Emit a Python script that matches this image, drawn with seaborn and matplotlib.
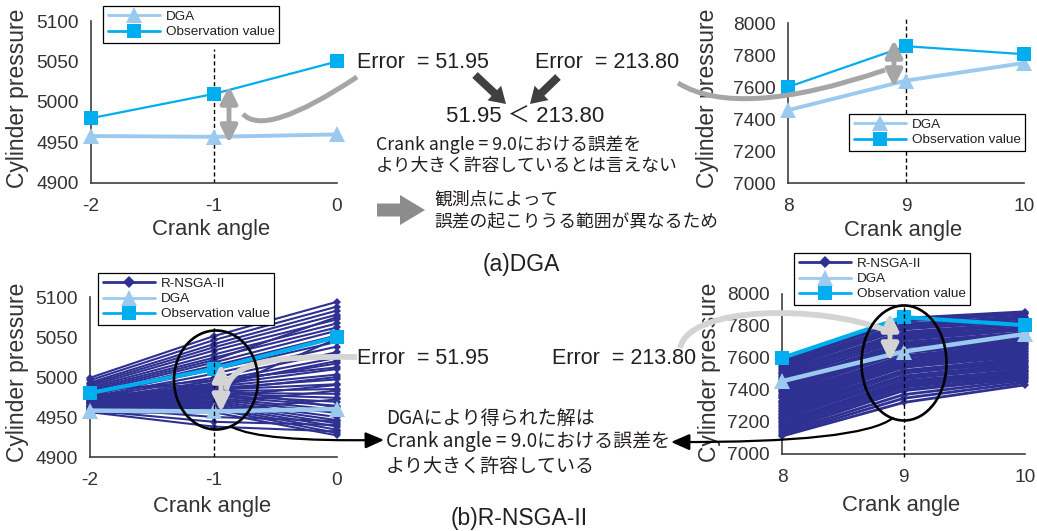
import matplotlib
matplotlib.use("Agg")
import numpy as np
import pandas as pd
import matplotlib.pyplot as plt
import seaborn as sns
from matplotlib.lines import Line2D
from matplotlib.patches import Ellipse, FancyArrow, FancyArrowPatch, PathPatch
from matplotlib.path import Path

sns.set_style("white")
plt.rcParams["font.family"] = ["Liberation Sans", "Noto Sans CJK JP"]
plt.rcParams["axes.unicode_minus"] = False

NAVY = "#2E3192"
DGA_C = "#9CC9EE"
OBS_C = "#00AEEF"
AX_C = "#404040"
TXT_C = "#231F20"
JP = ["Noto Sans CJK JP", "DejaVu Sans"]

# ---- data -------------------------------------------------------------
angles_a = [-2, -1, 0]
angles_b = [8, 9, 10]

dga_a = [4958, 4957, 4960]
obs_a = [4980, 5010, 5050]
dga_b = [7455, 7640, 7750]
obs_b = [7600, 7855, 7805]

# R-NSGA-II solutions, pressure at each crank angle
nsga_a_m2 = [4999, 4996, 4993, 4991, 4989, 4987, 4985, 4983, 4981, 4979, 4977, 4975, 4974, 4972, 4971,
             4970, 4969, 4968, 4967, 4966, 4965, 4964, 4963, 4962, 4961, 4960, 4960, 4959, 4958, 4957,
             4957, 4956, 4955, 4962, 4958, 4956, 4985, 4978, 4973, 4968, 4976, 4970, 4964, 4982]
nsga_a_m1 = [5051, 5046, 5041, 5037, 5033, 5028, 5024, 5021, 5018, 5014, 5009, 5004, 4999, 4995, 4992,
             4990, 4988, 4986, 4984, 4982, 4980, 4979, 4977, 4976, 4974, 4972, 4970, 4968, 4966, 4964,
             4962, 4960, 4956, 4950, 4944, 4938, 4990, 4983, 4986, 4975, 4981, 4967, 4958, 4996]
nsga_a_0 = [5094, 5088, 5083, 5078, 5072, 5067, 5062, 5075, 5058, 5052, 5044, 5038, 5031, 5024, 5017,
            5010, 5003, 4997, 4991, 4985, 4979, 4974, 4969, 4964, 4959, 4955, 4950, 4946, 4942, 4938,
            4934, 4930, 4927, 4945, 4940, 4932, 5020, 5000, 4962, 4990, 5048, 4983, 4972, 5012]

nsga_b_8 = [7588, 7576, 7570, 7561, 7549, 7545, 7532, 7528, 7515, 7507, 7501, 7488, 7482, 7470, 7463,
            7450, 7447, 7433, 7428, 7415, 7409, 7396, 7391, 7380, 7368, 7364, 7350, 7347, 7333, 7326,
            7318, 7305, 7299, 7287, 7281, 7268, 7262, 7251, 7245, 7232, 7224, 7219, 7205, 7198, 7190,
            7176, 7169, 7155, 7146, 7133, 7121, 7112]
nsga_b_9 = [7848, 7830, 7839, 7812, 7804, 7796, 7781, 7790, 7762, 7751, 7757, 7733, 7741, 7714, 7722,
            7698, 7690, 7682, 7669, 7673, 7652, 7645, 7631, 7637, 7614, 7603, 7609, 7588, 7579, 7571,
            7560, 7553, 7541, 7547, 7522, 7516, 7505, 7511, 7487, 7478, 7470, 7482, 7455, 7446, 7439,
            7426, 7418, 7402, 7396, 7371, 7348, 7322]
nsga_b_10 = [7889, 7872, 7880, 7858, 7846, 7851, 7832, 7826, 7818, 7806, 7811, 7792, 7785, 7776, 7781,
             7759, 7752, 7744, 7731, 7738, 7719, 7711, 7704, 7695, 7688, 7672, 7680, 7661, 7654, 7642,
             7636, 7624, 7617, 7609, 7598, 7590, 7583, 7572, 7565, 7551, 7546, 7538, 7526, 7519, 7511,
             7502, 7494, 7481, 7473, 7462, 7447, 7432]

yticks_a = [4900, 4950, 5000, 5050, 5100]
yticks_b = [7000, 7200, 7400, 7600, 7800, 8000]


def long_frame(angles, cols):
    rows = []
    for sol, vals in enumerate(zip(*cols)):
        for a, v in zip(angles, vals):
            rows.append({"sol": sol, "angle": a, "pressure": v})
    return pd.DataFrame(rows)


df_nsga_a = long_frame(angles_a, [nsga_a_m2, nsga_a_m1, nsga_a_0])
df_nsga_b = long_frame(angles_b, [nsga_b_8, nsga_b_9, nsga_b_10])

# ---- figure -----------------------------------------------------------
W, H = 1037, 531
fig = plt.figure(figsize=(W / 100, H / 100), dpi=100)
fig.patch.set_facecolor("white")


def px_axes(x0, x1, ytop, ybot):
    return fig.add_axes([x0 / W, 1 - ybot / H, (x1 - x0) / W, (ybot - ytop) / H])


def style(ax, xticks, yticks, ylab_x, ylab_y, xlab_x, xlab_y):
    ax.set_xlim(xticks[0], xticks[-1])
    ax.set_ylim(yticks[0], yticks[-1])
    ax.set_xticks(xticks)
    ax.set_yticks(yticks)
    ax.set_facecolor("none")
    for s in ["top", "right"]:
        ax.spines[s].set_visible(False)
    for s in ["left", "bottom"]:
        ax.spines[s].set_color(AX_C)
        ax.spines[s].set_linewidth(1.2)
    ax.tick_params(direction="in", length=5, width=1.2, color=AX_C,
                   labelsize=13.8, labelcolor="#333333")
    ax.tick_params(axis="x", pad=11)
    ax.tick_params(axis="y", pad=9)
    ax.set_xlabel("Crank angle", fontsize=15.8, color="#333333")
    ax.set_ylabel("Cylinder pressure", fontsize=16.5, color="#333333")
    ax.xaxis.label.set_va("center")
    ax.yaxis.label.set_va("center")
    ax.xaxis.set_label_coords(xlab_x, xlab_y)
    ax.yaxis.set_label_coords(ylab_x, ylab_y)


def draw_ref(ax, angles, dga, obs, dga_lw, obs_lw):
    sns.lineplot(x=angles, y=dga, ax=ax, color=DGA_C, lw=dga_lw, marker="^",
                 markersize=11, markeredgewidth=0, errorbar=None, clip_on=False, zorder=4)
    sns.lineplot(x=angles, y=obs, ax=ax, color=OBS_C, lw=obs_lw, marker="s",
                 markersize=10.5, markeredgewidth=0, errorbar=None, clip_on=False, zorder=5)


def draw_nsga(ax, df, lw):
    sns.lineplot(data=df, x="angle", y="pressure", units="sol", estimator=None, ax=ax,
                 color=NAVY, lw=lw, marker="D", markersize=3.8, markeredgewidth=0,
                 legend=False, clip_on=False, zorder=3)


def add_legend(ax, with_nsga, x, y):
    handles, labels = [], []
    if with_nsga:
        handles.append(Line2D([], [], color=NAVY, lw=2, marker="D", ms=6, mew=0))
        labels.append("R-NSGA-II")
    handles.append(Line2D([], [], color=DGA_C, lw=2, marker="^", ms=11, mew=0))
    labels.append("DGA")
    handles.append(Line2D([], [], color=OBS_C, lw=2, marker="s", ms=9.5, mew=0))
    labels.append("Observation value")
    leg = ax.legend(handles, labels, loc="upper left", bbox_to_anchor=(x / W, 1 - y / H),
                    bbox_transform=fig.transFigure, frameon=True, fancybox=False,
                    edgecolor="black", framealpha=1, fontsize=9.7, handlelength=3.9,
                    handletextpad=0.4, labelspacing=0.2, borderpad=0.35, borderaxespad=0)
    leg.get_frame().set_linewidth(0.9)
    for t in leg.get_texts():
        t.set_color(TXT_C)
    leg.set_zorder(10)


# (a) DGA, crank angle -2..0
ax1 = px_axes(91, 337, 21, 183)
draw_ref(ax1, angles_a, dga_a, obs_a, 2.8, 1.6)
ax1.axvline(-1, ymin=0, ymax=0.83, color="black", lw=1, ls=(0, (3, 2)), zorder=2)
style(ax1, angles_a, yticks_a, -0.3, 0.52, 0.49, -0.29)
add_legend(ax1, False, 103, 6)

# (a) DGA, crank angle 8..10
ax2 = px_axes(788, 1024, 23, 183)
draw_ref(ax2, angles_b, dga_b, obs_b, 2.8, 1.6)
ax2.axvline(9, ymin=0, ymax=1.04, color="black", lw=1, ls=(0, (3, 2)), zorder=2, clip_on=False)
style(ax2, angles_b, yticks_b, -0.339, 0.53, 0.487, -0.294)
add_legend(ax2, False, 849, 114)

# (b) R-NSGA-II, crank angle -2..0
ax3 = px_axes(90, 337, 297, 457)
draw_nsga(ax3, df_nsga_a, 1.5)
draw_ref(ax3, angles_a, dga_a, obs_a, 3.2, 3.0)
ax3.axvline(-1, ymin=0, ymax=0.81, color="black", lw=1, ls=(0, (3, 2)), zorder=6)
style(ax3, angles_a, yticks_a, -0.295, 0.53, 0.494, -0.31)
add_legend(ax3, True, 98, 273)

# (b) R-NSGA-II, crank angle 8..10
ax4 = px_axes(782, 1025, 294, 454)
draw_nsga(ax4, df_nsga_b, 2.0)
draw_ref(ax4, angles_b, dga_b, obs_b, 3.2, 3.0)
ax4.axvline(9, ymin=-0.02, ymax=0.93, color="black", lw=1, ls=(0, (3, 2)), zorder=6, clip_on=False)
style(ax4, angles_b, yticks_b, -0.3, 0.51, 0.49, -0.32)
add_legend(ax4, True, 794, 253)

# ---- annotation layer in pixel coordinates -----------------------------
ov = fig.add_axes([0, 0, 1, 1], zorder=20)
ov.set_xlim(0, W)
ov.set_ylim(H, 0)
ov.axis("off")
ov.patch.set_alpha(0)


def curve(pts, color, lw):
    codes = [Path.MOVETO] + ([Path.CURVE3] * 2 if len(pts) == 3 else [Path.CURVE4] * 3)
    ov.add_patch(PathPatch(Path(pts, codes), fc="none", ec=color, lw=lw, capstyle="butt"))


def double_arrow(x, y0, y1, color):
    ov.add_patch(FancyArrowPatch((x, y0), (x, y1), arrowstyle="<|-|>,head_length=0.5,head_width=0.25",
                                 mutation_scale=20, lw=3.5, color=color, shrinkA=0, shrinkB=0))


def black_arrow(pts):
    codes = [Path.MOVETO, Path.CURVE3, Path.CURVE3]
    ov.add_patch(FancyArrowPatch(path=Path(pts, codes), arrowstyle="-|>,head_length=0.8,head_width=0.35",
                                 mutation_scale=14, lw=1.6, color="black"))


GRAY = "#A6A6A6"
LIGHT = "#D4D4D4"

# top row
double_arrow(229, 86, 143, GRAY)
curve([(243, 114), (265, 138), (357, 77)], GRAY, 3.6)
double_arrow(894, 40, 87, GRAY)
curve([(678, 83), (738, 120), (885, 70)], GRAY, 3.6)

ov.text(357, 63, "Error  = 51.95", fontsize=15.5, color=TXT_C, ha="left", va="center")
ov.text(535, 63, "Error  = 213.80", fontsize=15.5, color=TXT_C, ha="left", va="center")
ov.add_patch(FancyArrow(475, 75, 31, 29, width=8, head_width=20, head_length=16,
                        length_includes_head=True, color="#404040", lw=0))
ov.add_patch(FancyArrow(558, 77, -28, 27, width=8, head_width=20, head_length=16,
                        length_includes_head=True, color="#404040", lw=0))
ov.text(525, 117, "51.95 ＜ 213.80", fontsize=16, color=TXT_C, ha="center", va="center")
ov.text(376, 145, "Crank angle = 9.0における誤差を", fontsize=12.8, color=TXT_C,
        ha="left", va="center", family=JP)
ov.text(376, 166, "より大きく許容しているとは言えない", fontsize=12.8, color=TXT_C,
        ha="left", va="center", family=JP)
ov.add_patch(FancyArrow(377, 210, 48, 0, width=13, head_width=30, head_length=25,
                        length_includes_head=True, color="#8C8C8C", lw=0))
ov.text(434, 200, "観測点によって", fontsize=12.8, color=TXT_C, ha="left", va="center", family=JP)
ov.text(434, 221, "誤差の起こりうる範囲が異なるため", fontsize=12.8, color=TXT_C,
        ha="left", va="center", family=JP)
ov.text(521, 265, "(a)DGA", fontsize=16.5, color=TXT_C, ha="center", va="center")

# bottom row
double_arrow(221, 364, 412, LIGHT)
curve([(357, 357), (270, 356), (232, 362), (226, 390)], LIGHT, 4.2)
double_arrow(890, 313, 361, LIGHT)
curve([(680, 348), (690, 305), (820, 305), (885, 330)], LIGHT, 4.2)

ov.add_patch(Ellipse((216, 380), 84, 99, fc="none", ec="black", lw=1.9))
ov.add_patch(Ellipse((904, 363), 85, 115, fc="none", ec="black", lw=1.9))
black_arrow([(232, 427), (260, 442), (384, 440)])
black_arrow([(893, 418), (860, 443), (671, 442)])

ov.text(357, 358, "Error  = 51.95", fontsize=15.5, color=TXT_C, ha="left", va="center")
ov.text(552, 358, "Error  = 213.80", fontsize=15.5, color=TXT_C, ha="left", va="center")
ov.text(386, 418, "DGAにより得られた解は", fontsize=13.7, color=TXT_C, ha="left", va="center", family=JP)
ov.text(386, 442, "Crank angle = 9.0における誤差を", fontsize=13.7, color=TXT_C,
        ha="left", va="center", family=JP)
ov.text(386, 466, "より大きく許容している", fontsize=13.7, color=TXT_C, ha="left", va="center", family=JP)
ov.text(519, 518, "(b)R-NSGA-II", fontsize=16.5, color=TXT_C, ha="center", va="center")

fig.savefig("out.png", dpi=100, facecolor="white")
